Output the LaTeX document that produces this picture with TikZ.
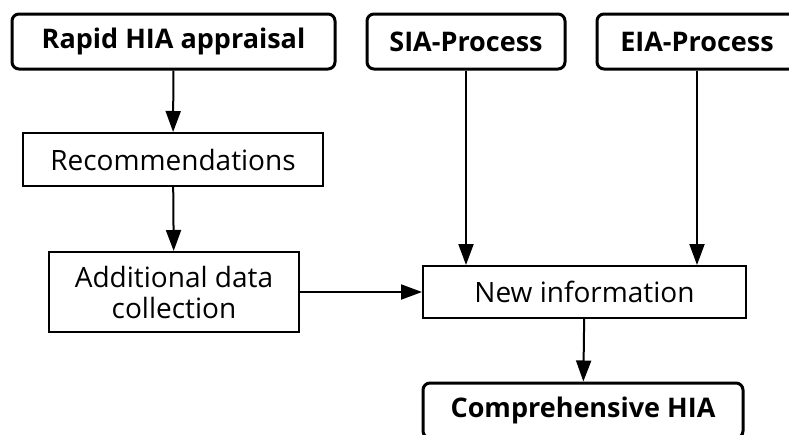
\documentclass[tikz,border=0pt]{standalone}
\usepackage{fontspec}
\setmainfont{Open Sans}
\usetikzlibrary{arrows.meta}

\begin{document}
\begin{tikzpicture}[x=1pt, y=-1pt, >={Triangle[length=21pt, width=15pt]}]
  \tikzset{
    stage/.style={rectangle, rounded corners=7pt, draw, line width=3pt,
      minimum height=55pt, font=\fontsize{27}{30}\selectfont\bfseries, align=center},
    task/.style={rectangle, draw, line width=2pt,
      font=\fontsize{28}{31}\selectfont, align=center},
    flow/.style={->, line width=2pt}
  }
  \useasboundingbox (0,0) rectangle (789,434);
  \clip (0,0) rectangle (789,434);

  \node[stage, minimum width=323pt] (rapid) at (173.5,41.5) {Rapid HIA appraisal};
  \node[stage, minimum width=198pt] (sia) at (466,41.5) {SIA-Process};
  \node[stage, minimum width=200pt] (eia) at (697,41.5) {EIA-Process};
  \node[task, minimum width=300pt, minimum height=53pt] (recom) at (173,159.5) {Recommendations};
  \node[task, minimum width=250pt, minimum height=80pt] (addl) at (174,292) {Additional data\\collection};
  \node[task, minimum width=323pt, minimum height=52pt] (newinfo) at (584.5,292) {New information};
  \node[stage, minimum width=320pt] (comp) at (583,410.5) {Comprehensive HIA};

  \draw[flow] (rapid) -- (recom);
  \draw[flow] (recom) -- (addl);
  \draw[flow] (addl) -- (newinfo);
  \draw[flow] (sia.south) -- (sia.south |- newinfo.north);
  \draw[flow] (eia.south) -- (eia.south |- newinfo.north);
  \draw[flow] (newinfo) -- (comp);
\end{tikzpicture}
\end{document}
